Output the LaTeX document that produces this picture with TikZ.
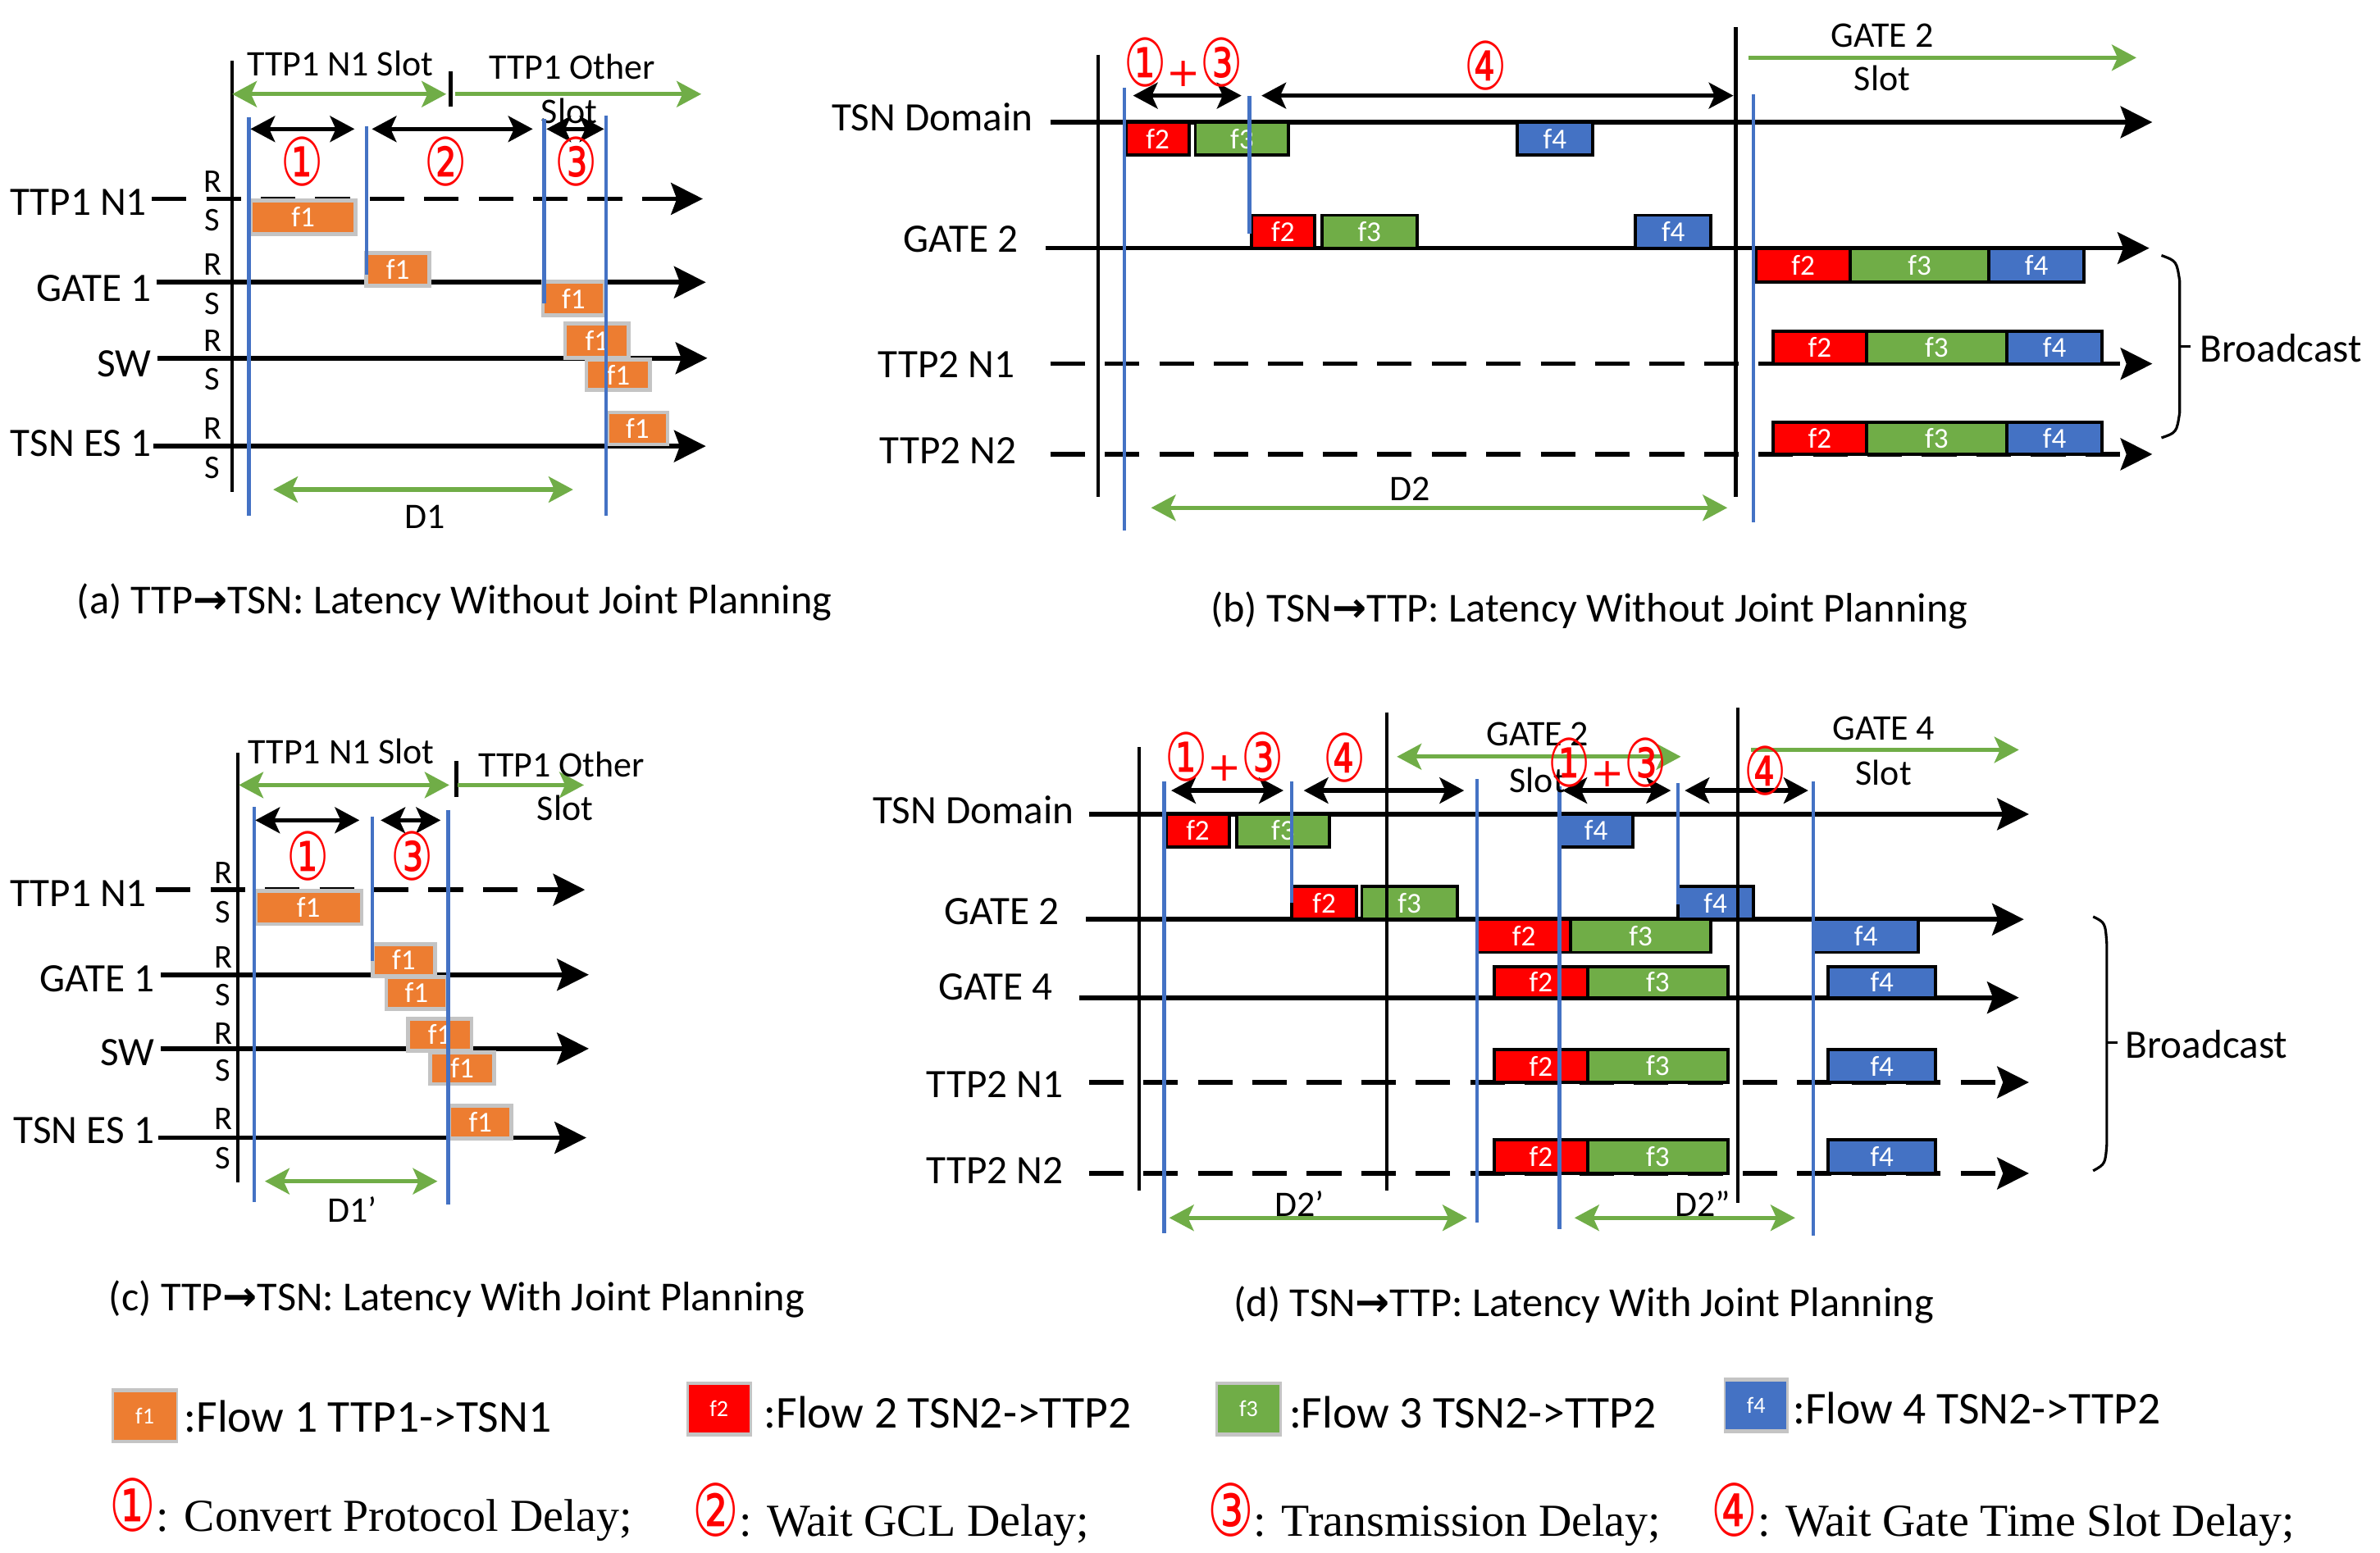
\documentclass[tikz,border=0pt]{standalone}
\usepackage{fontspec}
\setmainfont{Carlito}
\newfontfamily\symFont{DejaVu Sans}
\newfontfamily\noteFont{Liberation Serif}
\usetikzlibrary{arrows.meta}
\definecolor{oneColor}{RGB}{237,125,49}
\definecolor{twoColor}{RGB}{255,0,0}
\definecolor{threeColor}{RGB}{112,173,71}
\definecolor{fourColor}{RGB}{68,114,196}
\definecolor{rimColor}{RGB}{196,196,196}
\definecolor{slotColor}{RGB}{112,173,71}
\definecolor{markColor}{RGB}{68,114,196}
\tikzset{laneTip/.tip={Stealth[length=11pt,width=11pt,inset=2pt]}}
\tikzset{smallTip/.tip={Stealth[length=8.5pt,width=9pt,inset=2pt]}}
\tikzstyle{canvas} = [x=0.018508cm, y=-0.018508cm]
\tikzstyle{lane} = [line width=1.6pt, -laneTip]
\tikzstyle{dashLane} = [lane, dash pattern=on 12pt off 6.9pt]
\tikzstyle{axisLine} = [line width=1.3pt]
\tikzstyle{marker} = [color=markColor, line width=1.2pt]
\tikzstyle{delay} = [line width=1.5pt, smallTip-smallTip]
\tikzstyle{slotBoth} = [color=slotColor, line width=1.5pt, smallTip-smallTip]
\tikzstyle{slotRight} = [color=slotColor, line width=1.5pt, -smallTip]
\tikzstyle{laneText} = [anchor=east, inner sep=0pt, font=\fontsize{14}{16}\selectfont]
\tikzstyle{slotText} = [inner sep=0pt, font=\fontsize{12.5}{14}\selectfont]
\tikzstyle{rsText} = [inner sep=0pt, font=\fontsize{11.5}{13}\selectfont]
\tikzstyle{numText} = [inner sep=0pt, text=red, font=\symFont\fontsize{23}{25}\selectfont]
\tikzstyle{boxText} = [midway, inner sep=0pt, text=white, font=\fontsize{10}{11}\selectfont]
\tikzstyle{oneBox} = [fill=oneColor, draw=rimColor, line width=1.3pt]
\tikzstyle{trainBox} = [draw=black, line width=1.1pt]
\tikzstyle{capText} = [inner sep=0pt, font=\fontsize{14.3}{16}\selectfont]
\tikzstyle{keyText} = [anchor=west, inner sep=0pt, font=\fontsize{15.8}{18}\selectfont]
\tikzstyle{noteText} = [anchor=west, inner sep=0pt, font=\noteFont\fontsize{15.9}{18}\selectfont]
\tikzstyle{braceLine} = [line width=0.9pt]
\newcommand{\flowBox}[7]{\filldraw [#1] (#2,#3) rectangle (#4,#5) node [boxText] (#6) {#7};}
\newcommand{\legendBox}[7]{
  \fill [rimColor] (#2,#3) rectangle (#4,#5);
  \fill [#1] (#2+1.5,#3+2.5) rectangle (#4-1.5,#5-2.5) node [midway, text=white, font=\fontsize{8}{9}\selectfont] (#6) {#7};
}
\newcommand{\circNum}[1]{\scalebox{0.72}[1]{#1}}
\newcommand{\plusSign}{{\fontsize{14}{16}\selectfont+}}
\newcommand{\noteNum}[1]{{\color{red}\symFont\fontsize{25}{27}\selectfont\circNum{#1}}}
\newcommand{\toArrow}{{\symFont\bfseries\char"2192}}
\begin{document}
\begin{tikzpicture}[canvas]
\useasboundingbox (0,0) rectangle (1568,1023);

% (a)
\node [laneText] (aN1) at (97,133) {TTP1 N1};
\node [laneText] (aGate) at (100,190) {GATE 1};
\node [laneText] (aSw) at (100,240) {SW};
\node [laneText] (aEs) at (100,292) {TSN ES 1};
\draw [dashLane] (100,131) -- (463,131);
\draw [lane] (103,186) -- (465,186);
\draw [lane] (104,236) -- (466,236);
\draw [lane] (101,294) -- (465,294);
\foreach \y [count=\i] in {131,186,236,294} {
  \node [rsText] (aR\i) at (140,\y-11.5) {R};
  \node [rsText] (aS\i) at (140,\y+14) {S};
}
\foreach \xa/\ya/\xb/\yb [count=\i] in {165.1/132.1/234.3/154.2, 241.4/166.8/282.9/188.4, 357.6/185.7/398.1/207.8, 372.3/213.1/414.3/235.9, 386.3/237/428.3/256.8, 400.3/271.8/439.9/292.8}
  \flowBox{oneBox}{\xa}{\ya}{\xb}{\yb}{aBox\i}{f1};
\draw [axisLine] (153,40) -- (153,324);
\node [slotText] (aSlot) at (224,42) {TTP1 N1 Slot};
\draw [slotBoth] (153,62) -- (294,62);
\draw [axisLine] (297,47) -- (297,70);
\draw [slotRight] (300,62) -- (462,62);
\node [slotText] (aOther) at (377,44) {TTP1 Other};
\node [slotText] (aOtherSlot) at (375,73) {Slot};
\draw [marker] (164,77) -- (164,340);
\draw [marker] (241.5,83) -- (241.5,181);
\draw [marker] (358.5,78.5) -- (358.5,200);
\draw [marker] (399.5,76) -- (399.5,340);
\draw [delay] (165,85) -- (233.6,85);
\draw [delay] (245,85) -- (351,85);
\draw [delay] (360,85) -- (398,85);
\node [numText] (aOne) at (199.4,106.7) {\circNum{①}};
\node [numText] (aTwo) at (293.8,106.7) {\circNum{②}};
\node [numText] (aThree) at (379.4,106.7) {\circNum{③}};
\draw [slotBoth] (180,322.6) -- (377.6,322.6);
\node [slotText] (aD) at (279.8,340.7) {D1};
\node [capText] (aCap) at (299.5,397) {(a) TTP\toArrow TSN: Latency Without Joint Planning};

% (b)
\node [laneText] (bTsn) at (681,77) {TSN Domain};
\node [laneText] (bGate) at (671,157.5) {GATE 2};
\node [laneText] (bN1) at (669,240.4) {TTP2 N1};
\node [laneText] (bN2) at (670,296.9) {TTP2 N2};
\draw [lane] (692,80.5) -- (1418,80.5);
\draw [lane] (689,163.5) -- (1416,163.5);
\draw [dashLane] (692,239.7) -- (1418,239.7);
\draw [dashLane] (692,299.3) -- (1418,299.3);
\foreach \c/\xa/\ya/\xb/\yb/\t [count=\i] in {twoColor/741.9/80.5/783.5/102.2/f2, threeColor/787.5/80.5/849/102.2/f3, fourColor/999.6/80.5/1049.2/102.2/f4,
  twoColor/824.5/141.8/866.1/163.5/f2, threeColor/870.8/141.8/933.6/163.5/f3, fourColor/1077.6/141.8/1127.2/163.5/f4,
  twoColor/1157/163.5/1219/185.8/f2, threeColor/1219/163.5/1310.3/185.8/f3, fourColor/1310.3/163.5/1373/185.8/f4,
  twoColor/1168.2/218.3/1229.6/239.7/f2, threeColor/1229.6/218.3/1322.2/239.7/f3, fourColor/1322.2/218.3/1385/239.7/f4,
  twoColor/1168.2/278.4/1229.6/299.3/f2, threeColor/1229.6/278.4/1322.2/299.3/f3, fourColor/1322.2/278.4/1385/299.3/f4}
  \flowBox{trainBox, fill=\c}{\xa}{\ya}{\xb}{\yb}{bBox\i}{\t};
\draw [axisLine] (723.4,36) -- (723.4,327.4);
\draw [axisLine] (1143.7,18) -- (1143.7,327.4);
\draw [marker] (740.6,57.7) -- (740.6,349.8);
\draw [marker] (823.2,63) -- (823.2,153.8);
\draw [marker] (1155,62) -- (1155,344.2);
\draw [delay] (746.5,63) -- (817.9,63);
\draw [delay] (831.1,63) -- (1142,63);
\node [numText] (bOneThree) at (779.6,41) {\circNum{①}\plusSign\circNum{③}};
\node [numText] (bFour) at (979,43) {\circNum{④}};
\node [slotText] (bSlotGate) at (1240,23.6) {GATE 2};
\draw [slotRight] (1151.7,38) -- (1407.5,38);
\node [slotText] (bSlot) at (1240,51.7) {Slot};
\draw [braceLine] (1424,168.3) .. controls (1434,172) .. (1436,185) -- (1436,272) .. controls (1434,285) .. (1424,288.5);
\draw [braceLine] (1436,228.4) -- (1443,228.4);
\node [laneText, anchor=west] (bCast) at (1449,229.6) {Broadcast};
\draw [slotBoth] (758.4,334.6) -- (1138,334.6);
\node [slotText] (bD) at (928.9,322.1) {D2};
\node [capText] (bCap) at (1047,402) {(b) TSN\toArrow TTP: Latency Without Joint Planning};

% (c)
\node [laneText] (cN1) at (97,589) {TTP1 N1};
\node [laneText] (cGate) at (102,645) {GATE 1};
\node [laneText] (cSw) at (102,693.6) {SW};
\node [laneText] (cEs) at (102,745) {TSN ES 1};
\draw [dashLane] (102.8,586.3) -- (385.4,586.3);
\draw [lane] (105.9,642.3) -- (387.9,642.3);
\draw [lane] (105.9,691) -- (387.9,691);
\draw [lane] (104.4,749.7) -- (386.3,749.7);
\foreach \r/\s [count=\i] in {575.2/601, 631/655.5, 681/705.5, 737/763.4} {
  \node [rsText] (cR\i) at (147,\r) {R};
  \node [rsText] (cS\i) at (147,\s) {S};
}
\foreach \xa/\ya/\xb/\yb [count=\i] in {168.2/587/238.3/608.9, 245.5/622.1/286.6/643.1, 254.5/643.7/294.4/664.7, 268.8/671.3/310.6/692.3, 283.5/693.6/325.5/714.2, 296/728.6/337/750.2}
  \flowBox{oneBox}{\xa}{\ya}{\xb}{\yb}{cBox\i}{f1};
\draw [axisLine] (156.7,495.8) -- (156.7,779.2);
\node [slotText] (cSlot) at (224.9,495) {TTP1 N1 Slot};
\draw [slotBoth] (157.3,517.3) -- (296,517.3);
\draw [axisLine] (300.6,501.5) -- (300.6,525.2);
\draw [slotRight] (301.6,517.3) -- (384.7,517.3);
\node [slotText] (cOther) at (370,503.6) {TTP1 Other};
\node [slotText] (cOtherSlot) at (372.3,532.6) {Slot};
\draw [marker] (167.6,531.8) -- (167.6,792.3);
\draw [marker] (245.5,537.9) -- (245.5,633.1);
\draw [marker] (295.3,533.6) -- (295.3,793.6);
\draw [delay] (168.2,540.5) -- (236.8,540.5);
\draw [delay] (250.8,540.5) -- (290.3,540.5);
\node [numText] (cOne) at (203.1,564.2) {\circNum{①}};
\node [numText] (cThree) at (271.7,564.2) {\circNum{③}};
\draw [slotBoth] (174.5,778.4) -- (288.2,778.4);
\node [slotText] (cD) at (232,796.8) {D1\char39};
\node [capText] (cCap) at (301,856) {(c) TTP\toArrow TSN: Latency With Joint Planning};

% (d)
\node [laneText] (dTsn) at (708,533.8) {TSN Domain};
\node [laneText] (dGateTwo) at (698,600.8) {GATE 2};
\node [laneText] (dGateFour) at (694,650.4) {GATE 4};
\node [laneText] (dN1) at (701,714.5) {TTP2 N1};
\node [laneText] (dN2) at (701,771.5) {TTP2 N2};
\draw [lane] (717.4,536.5) -- (1336.7,536.5);
\draw [lane] (715.4,605.8) -- (1333.4,605.8);
\draw [lane] (710.8,657.4) -- (1330.1,657.4);
\draw [dashLane] (717.4,713.2) -- (1336.7,713.2);
\draw [dashLane] (717.4,773.2) -- (1336.7,773.2);
\foreach \c/\xa/\ya/\xb/\yb/\t [count=\i] in {twoColor/768.3/536.5/810/558.1/f2, threeColor/814.6/536.5/876/558.1/f3, fourColor/1027.4/536.5/1075.7/558.1/f4,
  twoColor/851/584.2/893.9/605.8/f2, threeColor/897.2/584.2/960/605.8/f3, fourColor/1105.4/584.2/1155/605.8/f4,
  twoColor/973.2/605.8/1034.7/627.6/f2, threeColor/1034.7/605.8/1127.2/627.6/f3, fourColor/1194.6/605.8/1264/627.6/f4,
  twoColor/984.5/637/1045.9/657.4/f2, threeColor/1045.9/637/1138.5/657.4/f3, fourColor/1204.5/637/1275.3/657.4/f4,
  twoColor/984.5/691.6/1045.9/713.2/f2, threeColor/1045.9/691.6/1138.5/713.2/f3, fourColor/1204.5/691.6/1275.3/713.2/f4,
  twoColor/984.5/751.2/1045.9/773.2/f2, threeColor/1045.9/751.2/1138.5/773.2/f3, fourColor/1204.5/751.2/1275.3/773.2/f4}
  \flowBox{trainBox, fill=\c}{\xa}{\ya}{\xb}{\yb}{dBox\i}{\t};
\draw [axisLine] (750.5,492.4) -- (750.5,784.4);
\draw [axisLine] (913.7,469.3) -- (913.7,784.4);
\draw [axisLine] (1145,466.3) -- (1145,792.6);
\draw [marker] (767,514.7) -- (767,812.5);
\draw [marker] (850.9,514.7) -- (850.9,594.8);
\draw [marker] (973.2,513.5) -- (973.2,805.8);
\draw [marker] (1027.4,518.4) -- (1027.4,810);
\draw [marker] (1105.4,515.9) -- (1105.4,595.8);
\draw [marker] (1194.6,514.7) -- (1194.6,814.2);
\draw [delay] (771.6,520.9) -- (845.6,520.9);
\draw [delay] (858.9,520.9) -- (964.6,520.9);
\draw [delay] (1029.4,520.9) -- (1100.8,520.9);
\draw [delay] (1110,520.9) -- (1191.3,520.9);
\node [slotText] (dSlotGateTwo) at (1013,483.7) {GATE 2};
\draw [slotBoth] (920.3,498.6) -- (1107.4,498.6);
\node [slotText] (dSlotTwo) at (1013,514) {Slot};
\node [slotText] (dSlotGateFour) at (1241,480) {GATE 4};
\draw [slotRight] (1153.7,494.1) -- (1330.1,494.1);
\node [slotText] (dSlotFour) at (1241,509) {Slot};
\node [numText] (dOneThree) at (806.7,498.6) {\circNum{①}\plusSign\circNum{③}};
\node [numText] (dFour) at (886,499.3) {\circNum{④}};
\node [numText] (dOneThreeB) at (1059,502.3) {\circNum{①}\plusSign\circNum{③}};
\node [numText] (dFourB) at (1163,508) {\circNum{④}};
\draw [braceLine] (1379,604) .. controls (1387,608) .. (1388,622) -- (1388,754) .. controls (1387,767) .. (1379,771.5);
\draw [braceLine] (1388,687.1) -- (1395,687.1);
\node [laneText, anchor=west] (dCast) at (1400,688.4) {Broadcast};
\draw [slotBoth] (770.3,802.5) -- (966.6,802.5);
\node [slotText] (dD) at (856.2,793.4) {D2\char39};
\draw [slotBoth] (1037.3,802.5) -- (1182.7,802.5);
\node [slotText] (dDD) at (1121.9,793.4) {D2\char39\char39};
\node [capText] (dCap) at (1043.5,860) {(d) TSN\toArrow TTP: Latency With Joint Planning};

% legend
\legendBox{fill=oneColor}{73.5}{914.7}{117.4}{951.1}{kOne}{f1}
\node [keyText] (kOneText) at (121,933.3) {:Flow 1 TTP1->TSN1};
\legendBox{fill=twoColor}{452.2}{910.2}{495.2}{946.6}{kTwo}{f2}
\node [keyText] (kTwoText) at (503,930.6) {:Flow 2 TSN2->TTP2};
\legendBox{fill=threeColor}{800.7}{910.2}{844.6}{946.6}{kThree}{f3}
\node [keyText] (kThreeText) at (849,930.6) {:Flow 3 TSN2->TTP2};
\legendBox{fill=fourColor}{1135.5}{907.9}{1178.4}{944.5}{kFour}{f4}
\node [keyText] (kFourText) at (1181,928) {:Flow 4 TSN2->TTP2};
\node [noteText] (nOne) at (72,995) {\noteNum{①}: Convert Protocol Delay;};
\node [noteText] (nTwo) at (456,998) {\noteNum{②}: Wait GCL Delay;};
\node [noteText] (nThree) at (795,998) {\noteNum{③}: Transmission Delay;};
\node [noteText] (nFour) at (1127,998) {\noteNum{④}: Wait Gate Time Slot Delay;};
\end{tikzpicture}
\end{document}
